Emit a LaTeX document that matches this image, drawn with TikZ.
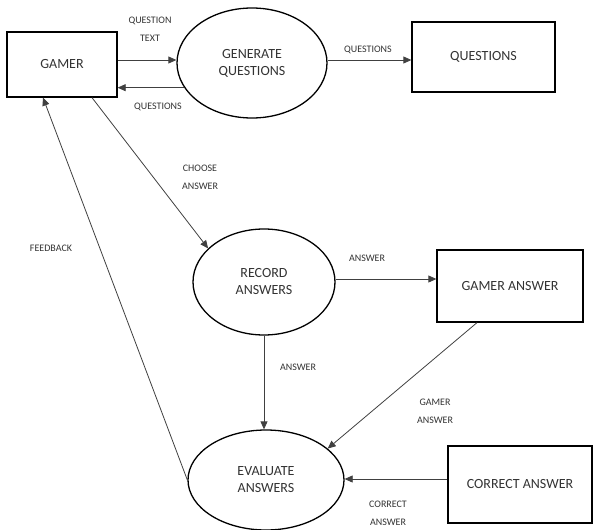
\documentclass[tikz,border=0pt]{standalone}
\usepackage{fontspec}
\setmainfont{Carlito}
\usetikzlibrary{shapes.geometric,arrows.meta}
\begin{document}
\begin{tikzpicture}[x=1pt,y=-1pt,
  entity/.style={draw=black,line width=1.3pt,rectangle,inner sep=0pt,font=\fontsize{14}{16}\selectfont,text=black!80},
  proc/.style={draw=black,line width=1.3pt,ellipse,inner sep=0pt,align=center,font=\fontsize{14}{17}\selectfont,text=black!80},
  flow/.style={draw=black!75,line width=0.8pt,-{Triangle[length=8pt,width=7pt]}},
  lbl/.style={font=\fontsize{10}{18}\selectfont,align=center,text=black!80,inner sep=0pt}]
\useasboundingbox (0,0) rectangle (598,530);
\node[entity,minimum width=110pt,minimum height=65pt] (gamer) at (62,64.5) {GAMER};
\node[proc,minimum width=150pt,minimum height=110pt] (gen) at (252,63) {GENERATE\\QUESTIONS};
\node[entity,minimum width=143pt,minimum height=70pt] (q) at (483.5,57) {QUESTIONS};
\node[proc,minimum width=142pt,minimum height=106pt] (rec) at (264,282) {RECORD\\ANSWERS};
\node[entity,minimum width=146pt,minimum height=72pt] (ga) at (510,286) {GAMER ANSWER};
\node[proc,minimum width=156pt,minimum height=100pt] (eval) at (266,480) {EVALUATE\\ANSWERS};
\node[entity,minimum width=144pt,minimum height=77pt] (ca) at (520,484.5) {CORRECT ANSWER};

\draw[flow] (gamer.east |- 0,60) -- (gen.west |- 0,60);
\draw[flow] (gen.200) -- (gen.200 -| gamer.east);
\draw[flow] (gen.east |- 0,60) -- (q.west |- 0,60);
\draw[flow] ([xshift=30pt]gamer.south) -- (rec.149);
\draw[flow] (eval.west) -- ([xshift=-19pt]gamer.south);
\draw[flow] (rec.east |- 0,279) -- (ga.west |- 0,279);
\draw[flow] (rec.south) -- (rec.south |- eval.north);
\draw[flow] ([xshift=-33pt]ga.south) -- (eval.27);
\draw[flow] (ca.west |- 0,479) -- (eval.east |- 0,479);

\node[lbl] (l1) at (150,29) {QUESTION\\TEXT};
\node[lbl] (l2) at (158,107) {QUESTIONS};
\node[lbl] (l3) at (368,50) {QUESTIONS};
\node[lbl] (l4) at (200,177) {CHOOSE\\ANSWER};
\node[lbl] (l5) at (51,248) {FEEDBACK};
\node[lbl] (l6) at (367,258) {ANSWER};
\node[lbl] (l7) at (298,367) {ANSWER};
\node[lbl] (l8) at (435,411) {GAMER\\ANSWER};
\node[lbl] (l9) at (388,513) {CORRECT\\ANSWER};
\end{tikzpicture}
\end{document}
